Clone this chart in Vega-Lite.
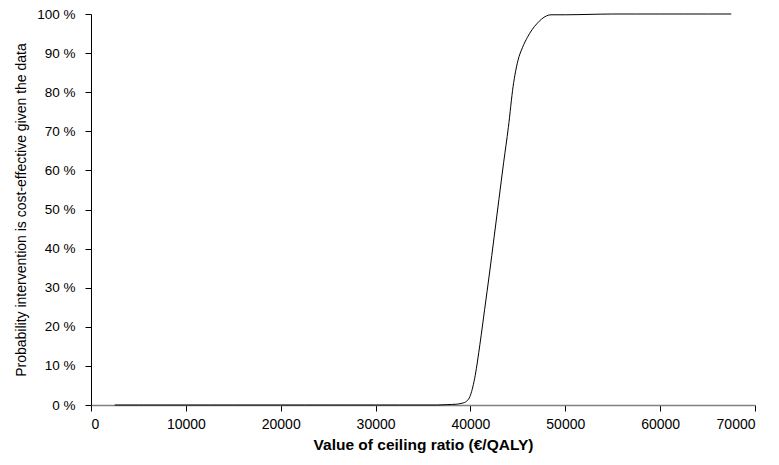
{
  "$schema": "https://vega.github.io/schema/vega-lite/v6.json",
  "width": 664,
  "height": 391,
  "autosize": {"type": "none"},
  "padding": {"left": 91, "top": 14, "right": 24, "bottom": 60},
  "background": "white",
  "config": {
    "view": {"stroke": null},
    "font": "Liberation Sans",
    "axis": {
      "grid": false,
      "labelFont": "Liberation Sans",
      "labelColor": "black",
      "titleFont": "Liberation Sans",
      "titleColor": "black",
      "tickColor": "black",
      "tickSize": 6,
      "domainWidth": 1
    }
  },
  "data": {
    "values": [
      {"wtp": 2500, "p": 0},
      {"wtp": 5000, "p": 0},
      {"wtp": 7500, "p": 0},
      {"wtp": 10000, "p": 0},
      {"wtp": 12500, "p": 0},
      {"wtp": 15000, "p": 0},
      {"wtp": 17500, "p": 0},
      {"wtp": 20000, "p": 0},
      {"wtp": 22500, "p": 0},
      {"wtp": 25000, "p": 0},
      {"wtp": 27500, "p": 0},
      {"wtp": 30000, "p": 0},
      {"wtp": 32500, "p": 0},
      {"wtp": 35000, "p": 0},
      {"wtp": 36500, "p": 0},
      {"wtp": 37500, "p": 0.001},
      {"wtp": 38500, "p": 0.002},
      {"wtp": 39000, "p": 0.004},
      {"wtp": 39500, "p": 0.008},
      {"wtp": 40000, "p": 0.025},
      {"wtp": 40500, "p": 0.075},
      {"wtp": 41000, "p": 0.155},
      {"wtp": 41500, "p": 0.245},
      {"wtp": 42000, "p": 0.335},
      {"wtp": 42500, "p": 0.43},
      {"wtp": 43000, "p": 0.525},
      {"wtp": 43500, "p": 0.62},
      {"wtp": 44000, "p": 0.71},
      {"wtp": 44500, "p": 0.815},
      {"wtp": 45000, "p": 0.88},
      {"wtp": 45500, "p": 0.915},
      {"wtp": 46000, "p": 0.94},
      {"wtp": 46500, "p": 0.96},
      {"wtp": 47000, "p": 0.975},
      {"wtp": 47500, "p": 0.987},
      {"wtp": 48000, "p": 0.995},
      {"wtp": 48500, "p": 0.998},
      {"wtp": 50000, "p": 0.998},
      {"wtp": 52500, "p": 0.999},
      {"wtp": 55000, "p": 1},
      {"wtp": 57500, "p": 1},
      {"wtp": 60000, "p": 1},
      {"wtp": 62500, "p": 1},
      {"wtp": 65000, "p": 1},
      {"wtp": 67500, "p": 1}
    ]
  },
  "mark": {"type": "line", "color": "black", "strokeWidth": 1, "interpolate": "monotone"},
  "encoding": {
    "x": {
      "field": "wtp",
      "type": "quantitative",
      "scale": {"domain": [0, 70000], "nice": false},
      "axis": {
        "title": "Value of ceiling ratio (€/QALY)",
        "titleFontWeight": "bold",
        "titleFontSize": 15.5,
        "labelFontSize": 14,
        "values": [0, 10000, 20000, 30000, 40000, 50000, 60000, 70000],
        "format": "d",
        "domainColor": "#808080",
        "domainWidth": 1.5,
        "labelPadding": 6,
        "titlePadding": 6
      }
    },
    "y": {
      "field": "p",
      "type": "quantitative",
      "scale": {"domain": [0, 1], "nice": false},
      "axis": {
        "title": "Probability intervention is cost-effective given the data",
        "titleFontWeight": "normal",
        "titleFontSize": 14,
        "labelFontSize": 13.5,
        "values": [0, 0.1, 0.2, 0.3, 0.4, 0.5, 0.6, 0.7, 0.8, 0.9, 1],
        "labelExpr": "round(datum.value * 100) + ' %'",
        "domainColor": "black",
        "labelPadding": 10,
        "titlePadding": 8
      }
    }
  }
}
